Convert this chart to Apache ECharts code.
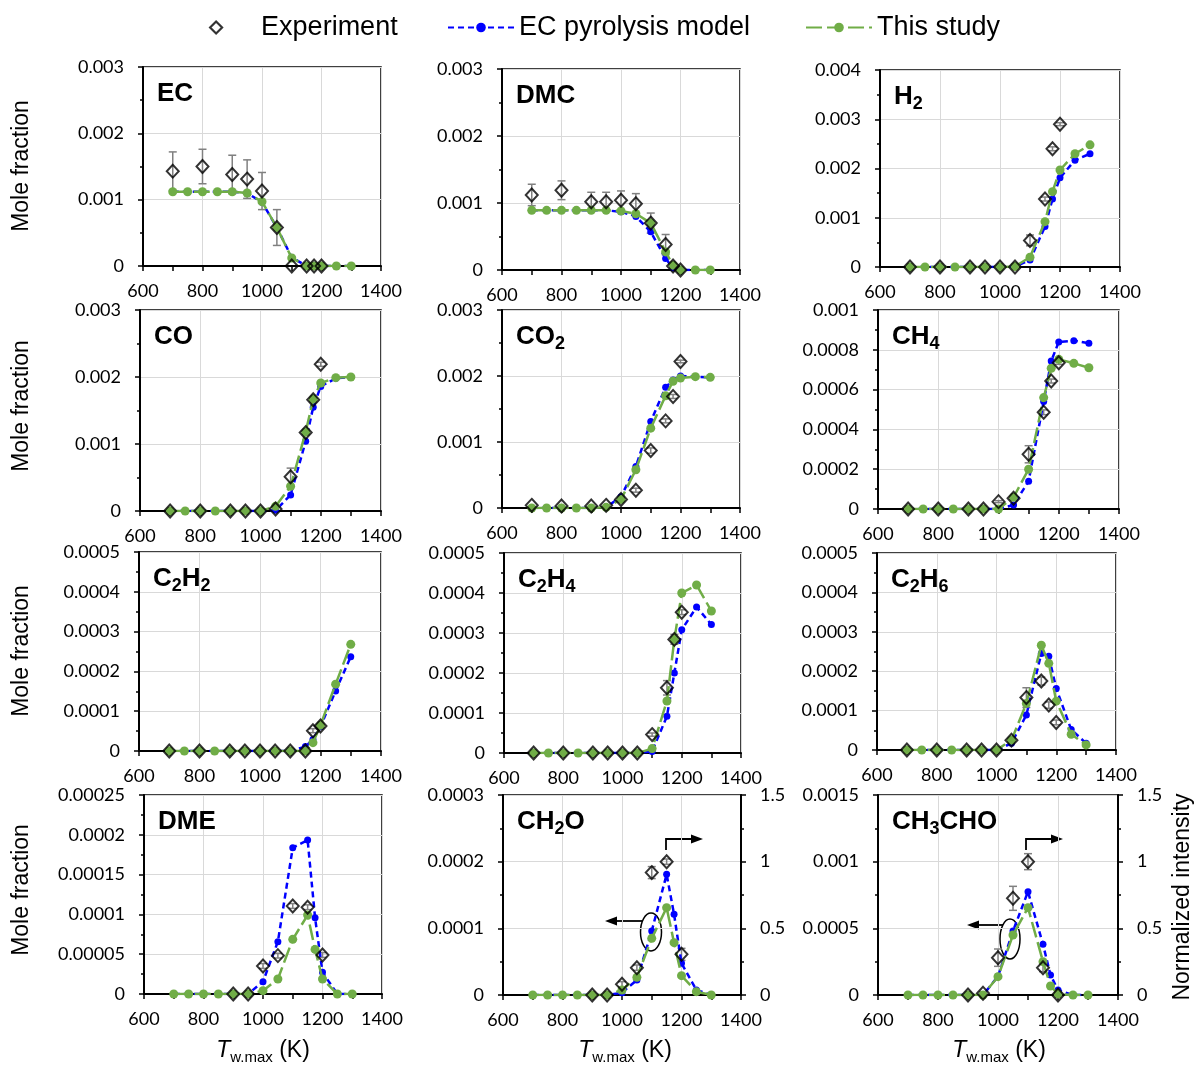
<!DOCTYPE html>
<html>
<head>
<meta charset="utf-8">
<script src="https://cdn.jsdelivr.net/npm/echarts@6/dist/echarts.min.js"></script>
<style>
html, body { margin: 0; padding: 0; background: #fff; }
#chart { width: 1195px; height: 1066px; }
</style>
</head>
<body>
<div id="chart"></div>
<script>
// wall temperatures (K)
const T_MODEL = [700, 750, 800, 850, 900, 950, 1000, 1050, 1100, 1150, 1175, 1200, 1250, 1300];
const T_EXP = [700, 800, 900, 950, 1000, 1050, 1100, 1150, 1175, 1200];
const T_EXP_LATE = [900, 950, 1000, 1050, 1100, 1150, 1200];

const X_TICKS = [600, 800, 1000, 1200, 1400];

// EC
const EC_EXP = [0.00143, 0.00150, 0.00138, 0.00131, 0.00113, 0.00058, 0, 0, 0, 0];
const EC_ERR = [0.00029, 0.00026, 0.00029, 0.00029, 0.00028, 0.00027, 0, 0, 0, 0];
const EC_MODEL = [0.00112, 0.00112, 0.00112, 0.00112, 0.00112, 0.00110, 0.00096, 0.00058, 0.00013, 0, 0, 0, 0, 0];
const EC_THIS = [0.00112, 0.00112, 0.00112, 0.00112, 0.00112, 0.00110, 0.00097, 0.00058, 0.00012, 0, 0, 0, 0, 0];

// DMC
const DMC_EXP = [0.00112, 0.00119, 0.00102, 0.00102, 0.00104, 0.00099, 0.00070, 0.00038, 0.00006, 0];
const DMC_ERR = [0.00016, 0.00014, 0.00014, 0.00014, 0.00014, 0.00015, 0.00015, 0.00015, 0, 0];
const DMC_MODEL = [0.00089, 0.00089, 0.00089, 0.00089, 0.00089, 0.00089, 0.00087, 0.00080, 0.00057, 0.00017, 0.00003, 0, 0, 0];
const DMC_THIS = [0.00089, 0.00089, 0.00089, 0.00089, 0.00089, 0.00089, 0.00088, 0.00084, 0.00070, 0.00027, 0.00007, 0, 0, 0];

// H2
const H2_EXP = [0, 0, 0, 0, 0, 0, 0.00054, 0.00138, 0.00240, 0.00290];
const H2_ERR = [0, 0, 0, 0, 0, 0, 0.00011, 0.00004, 0.00004, 0.00003];
const H2_MODEL = [0, 0, 0, 0, 0, 0, 0, 0.00001, 0.00014, 0.00082, 0.00138, 0.00181, 0.00217, 0.00230];
const H2_THIS = [0, 0, 0, 0, 0, 0, 0, 0.00001, 0.00020, 0.00092, 0.00153, 0.00197, 0.00230, 0.00248];

// CO
const CO_EXP = [0, 0, 0, 0, 0, 0.00003, 0.00051, 0.00117, 0.00166, 0.00219];
const CO_ERR = [0, 0, 0, 0, 0, 0, 0.00013, 0.00003, 0.00003, 0.00003];
const CO_MODEL = [0, 0, 0, 0, 0, 0, 0, 0.00001, 0.00024, 0.00104, 0.00155, 0.00186, 0.00198, 0.00200];
const CO_THIS = [0, 0, 0, 0, 0, 0, 0, 0.00007, 0.00037, 0.00118, 0.00167, 0.00191, 0.00199, 0.00200];

// CO2
const CO2_EXP = [0.00004, 0.00003, 0.00003, 0.00004, 0.00013, 0.00027, 0.00087, 0.00132, 0.00169, 0.00222];
const CO2_ERR = [0, 0, 0, 0, 0.00002, 0.00003, 0.00004, 0.00003, 0.00003, 0.00002];
const CO2_MODEL = [0, 0, 0, 0, 0, 0.00001, 0.00017, 0.00063, 0.00131, 0.00183, 0.00194, 0.00200, 0.00199, 0.00198];
const CO2_THIS = [0, 0, 0, 0, 0, 0.00001, 0.00013, 0.00058, 0.00121, 0.00170, 0.00192, 0.00197, 0.00199, 0.00198];

// CH4
const CH4_EXP = [0, 0, 0, 0, 0.000037, 0.000054, 0.000275, 0.000486, 0.000643, 0.000735];
const CH4_ERR = [0, 0, 0, 0, 0.000005, 0.000005, 0.000043, 0.000012, 0.000010, 0.000008];
const CH4_MODEL = [0, 0, 0, 0, 0, 0, 0, 0.000020, 0.000140, 0.000540, 0.000744, 0.000839, 0.000846, 0.000833];
const CH4_THIS = [0, 0, 0, 0, 0, 0, 0, 0.000059, 0.000200, 0.000560, 0.000707, 0.000752, 0.000732, 0.000710];

// C2H2
const C2H2_EXP = [0, 0, 0, 0, 0, 0, 0, 0, 0.000051, 0.000063];
const C2H2_ERR = [0, 0, 0, 0, 0, 0, 0, 0, 0.000005, 0.000004];
const C2H2_MODEL = [0, 0, 0, 0, 0, 0, 0, 0, 0, 0.000011, 0.000029, 0.000061, 0.000151, 0.000237];
const C2H2_THIS = [0, 0, 0, 0, 0, 0, 0, 0, 0, 0, 0.000021, 0.000065, 0.000168, 0.000268];

// C2H4
const C2H4_EXP = [0, 0, 0, 0, 0, 0, 0.000046, 0.000163, 0.000284, 0.000352];
const C2H4_ERR = [0, 0, 0, 0, 0, 0, 0.000004, 0.000018, 0.000012, 0.000006];
const C2H4_MODEL = [0, 0, 0, 0, 0, 0, 0, 0, 0.000004, 0.000092, 0.000200, 0.000308, 0.000365, 0.000321];
const C2H4_THIS = [0, 0, 0, 0, 0, 0, 0, 0, 0.000011, 0.000130, 0.000284, 0.000400, 0.000420, 0.000355];

// C2H6
const C2H6_EXP = [0, 0, 0, 0, 0, 0.000025, 0.000133, 0.000175, 0.000114, 0.000070];
const C2H6_ERR = [0, 0, 0, 0, 0, 0.000004, 0.000025, 0.000010, 0.000008, 0.000006];
const C2H6_MODEL = [0, 0, 0, 0, 0, 0, 0, 0.000017, 0.000089, 0.000245, 0.000238, 0.000156, 0.000052, 0.000017];
const C2H6_THIS = [0, 0, 0, 0, 0, 0, 0, 0.000025, 0.000118, 0.000266, 0.000220, 0.000124, 0.000040, 0.000013];

// DME
const DME_EXP = [0, 0, 0.0000352, 0.0000482, 0.0001106, 0.000109, 0.000049];
const DME_ERR = [0, 0, 0.000003, 0.000003, 0.000003, 0.000003, 0.000003];
const DME_MODEL = [0, 0, 0, 0, 0, 0, 0.0000155, 0.0000657, 0.0001838, 0.0001935, 0.0000959, 0.0000272, 0, 0];
const DME_THIS = [0, 0, 0, 0, 0, 0, 0.0000042, 0.0000188, 0.0000687, 0.0000992, 0.000056, 0.0000188, 0, 0];

// CH2O (experiment as normalized intensity)
const CH2O_EXP = [0, 0, 0.08, 0.205, 0.918, 1.0, 0.305];
const CH2O_ERR = [0, 0, 0.02, 0.02, 0.045, 0.02, 0.045];
const CH2O_MODEL = [0, 0, 0, 0, 0, 0, 0.0000035, 0.0000225, 0.000096, 0.000181, 0.000121, 0.0000475, 0.0000075, 0];
const CH2O_THIS = [0, 0, 0, 0, 0, 0, 0.0000075, 0.0000265, 0.000085, 0.000131, 0.0000785, 0.000029, 0.000005, 0];

// CH3CHO (experiment as normalized intensity)
const CH3CHO_EXP = [0, 0.0125, 0.28, 0.725, 1.0, 0.205, 0];
const CH3CHO_ERR = [0, 0.01, 0.065, 0.09, 0.06, 0.03, 0];
const CH3CHO_MODEL = [0, 0, 0, 0, 0, 0, 0.00014, 0.00048, 0.000775, 0.00038, 0.00015, 0.0000375, 0, 0];
const CH3CHO_THIS = [0, 0, 0, 0, 0, 0, 0.0001375, 0.00045, 0.000655, 0.00025, 0.0000675, 0.0000075, 0, 0];

const BLUE = '#0000ff';
const GREEN = '#70ad47';
const TICK_FONT = 'Lato';
const TEXT_FONT = 'Liberation Sans';

// panel layout: [left, top, width, height]
const PANELS = [
  { title: '{m|EC}', box: [143, 67, 238, 199], yMax: 0.003, yInt: 0.001, tExp: T_EXP, exp: EC_EXP, err: EC_ERR, model: EC_MODEL, ours: EC_THIS },
  { title: '{m|DMC}', box: [502, 69, 238, 201], yMax: 0.003, yInt: 0.001, tExp: T_EXP, exp: DMC_EXP, err: DMC_ERR, model: DMC_MODEL, ours: DMC_THIS },
  { title: '{m|H}{s|2}', box: [880, 70, 240, 197], yMax: 0.004, yInt: 0.001, tExp: T_EXP, exp: H2_EXP, err: H2_ERR, model: H2_MODEL, ours: H2_THIS },
  { title: '{m|CO}', box: [140, 310, 241, 201], yMax: 0.003, yInt: 0.001, tExp: T_EXP, exp: CO_EXP, err: CO_ERR, model: CO_MODEL, ours: CO_THIS },
  { title: '{m|CO}{s|2}', box: [502, 310, 238, 198], yMax: 0.003, yInt: 0.001, tExp: T_EXP, exp: CO2_EXP, err: CO2_ERR, model: CO2_MODEL, ours: CO2_THIS },
  { title: '{m|CH}{s|4}', box: [878, 310, 241, 199], yMax: 0.001, yInt: 0.0002, tExp: T_EXP, exp: CH4_EXP, err: CH4_ERR, model: CH4_MODEL, ours: CH4_THIS },
  { title: '{m|C}{s|2}{m|H}{s|2}', box: [139, 552, 242, 199], yMax: 0.0005, yInt: 0.0001, tExp: T_EXP, exp: C2H2_EXP, err: C2H2_ERR, model: C2H2_MODEL, ours: C2H2_THIS },
  { title: '{m|C}{s|2}{m|H}{s|4}', box: [504, 553, 237, 200], yMax: 0.0005, yInt: 0.0001, tExp: T_EXP, exp: C2H4_EXP, err: C2H4_ERR, model: C2H4_MODEL, ours: C2H4_THIS },
  { title: '{m|C}{s|2}{m|H}{s|6}', box: [877, 553, 239, 197], yMax: 0.0005, yInt: 0.0001, tExp: T_EXP, exp: C2H6_EXP, err: C2H6_ERR, model: C2H6_MODEL, ours: C2H6_THIS },
  { title: '{m|DME}', box: [144, 795, 238, 199], yMax: 0.00025, yInt: 0.00005, tExp: T_EXP_LATE, exp: DME_EXP, err: DME_ERR, model: DME_MODEL, ours: DME_THIS },
  { title: '{m|CH}{s|2}{m|O}', box: [503, 795, 238, 200], yMax: 0.0003, yInt: 0.0001, tExp: T_EXP_LATE, exp: CH2O_EXP, err: CH2O_ERR, model: CH2O_MODEL, ours: CH2O_THIS, right: true },
  { title: '{m|CH}{s|3}{m|CHO}', box: [878, 795, 240, 200], yMax: 0.0015, yInt: 0.0005, tExp: T_EXP_LATE, exp: CH3CHO_EXP, err: CH3CHO_ERR, model: CH3CHO_MODEL, ours: CH3CHO_THIS, right: true }
];

function fmt(v) {
  return v === 0 ? '0' : String(parseFloat(v.toPrecision(6)));
}

function axisLine() {
  return { show: true, onZero: false, lineStyle: { color: '#000', width: 2 } };
}

function renderErr(params, api) {
  const x = api.value(0);
  const lo = api.coord([x, api.value(1)]);
  const hi = api.coord([x, api.value(2)]);
  const w = 4;
  const st = { stroke: '#808080', lineWidth: 1.5 };
  return {
    type: 'group',
    children: [
      { type: 'line', shape: { x1: lo[0], y1: lo[1], x2: hi[0], y2: hi[1] }, style: st },
      { type: 'line', shape: { x1: lo[0] - w, y1: lo[1], x2: lo[0] + w, y2: lo[1] }, style: st },
      { type: 'line', shape: { x1: hi[0] - w, y1: hi[1], x2: hi[0] + w, y2: hi[1] }, style: st }
    ]
  };
}

const grids = [], xAxes = [], yAxes = [], series = [], graphics = [];

PANELS.forEach(function (p, i) {
  const [l, t, w, h] = p.box;
  grids.push({ left: l, top: t, width: w, height: h, show: true, borderColor: '#000', borderWidth: 1.5, backgroundColor: 'transparent', outerBoundsMode: 'none' });
  xAxes.push({
    gridIndex: i, type: 'value', min: X_TICKS[0], max: X_TICKS[X_TICKS.length - 1], interval: 200,
    axisLine: axisLine(),
    axisTick: { show: true, length: 5, lineStyle: { color: '#000', width: 1.5 } },
    minorTick: { show: true, splitNumber: 2, length: 5, lineStyle: { color: '#000', width: 1.5 } },
    splitLine: { show: true, lineStyle: { color: '#d9d9d9', width: 1 } },
    axisLabel: { color: '#000', fontFamily: TICK_FONT, fontSize: 18, margin: 16, formatter: function (v) { return String(v); } }
  });
  const yLeft = yAxes.length;
  yAxes.push({
    gridIndex: i, type: 'value', min: 0, max: p.yMax, interval: p.yInt,
    axisLine: axisLine(),
    axisTick: { show: true, length: 5, lineStyle: { color: '#000', width: 1.5 } },
    minorTick: { show: true, splitNumber: 2, length: 3, lineStyle: { color: '#000', width: 1.5 } },
    splitLine: { show: true, lineStyle: { color: '#d9d9d9', width: 1 } },
    axisLabel: { color: '#000', fontFamily: TICK_FONT, fontSize: 18, margin: 19, formatter: fmt }
  });
  let yExp = yLeft;
  if (p.right) {
    yExp = yAxes.length;
    yAxes.push({
      gridIndex: i, type: 'value', position: 'right', min: 0, max: 1.5, interval: 0.5,
      axisLine: axisLine(),
      axisTick: { show: true, length: 5, lineStyle: { color: '#000', width: 1.5 } },
      minorTick: { show: true, splitNumber: 2, length: 3, lineStyle: { color: '#000', width: 1.5 } },
      splitLine: { show: false },
      axisLabel: { color: '#000', fontFamily: TICK_FONT, fontSize: 18, margin: 19, formatter: fmt }
    });
  }

  const errData = [];
  p.tExp.forEach(function (x, k) {
    if (p.err[k] > 0) errData.push([x, p.exp[k] - p.err[k], p.exp[k] + p.err[k]]);
  });
  series.push({
    type: 'custom', xAxisIndex: i, yAxisIndex: yExp, data: errData,
    renderItem: renderErr, silent: true, z: 2, encode: { x: 0, y: [1, 2] }
  });
  series.push({
    name: 'EC pyrolysis model', type: 'line', xAxisIndex: i, yAxisIndex: yLeft,
    data: T_MODEL.map(function (x, k) { return [x, p.model[k]]; }),
    symbol: 'circle', symbolSize: 7, z: 3,
    itemStyle: { color: BLUE },
    lineStyle: { color: BLUE, width: 2.5, type: [6, 4] }
  });
  series.push({
    name: 'This study', type: 'line', xAxisIndex: i, yAxisIndex: yLeft,
    data: T_MODEL.map(function (x, k) { return [x, p.ours[k]]; }),
    symbol: 'circle', symbolSize: 9, z: 4,
    itemStyle: { color: GREEN },
    lineStyle: { color: GREEN, width: 2.5, type: [16, 5] }
  });
  series.push({
    name: 'Experiment', type: 'scatter', xAxisIndex: i, yAxisIndex: yExp,
    data: p.tExp.map(function (x, k) { return [x, p.exp[k]]; }),
    symbol: 'diamond', symbolSize: [12, 13], z: 5,
    itemStyle: { color: 'rgba(255,255,255,0)', borderColor: '#000', borderWidth: 2 }
  });

  graphics.push({
    type: 'text', x: l + 14, y: t + 27, z: 10,
    style: {
      text: p.title, textVerticalAlign: 'middle', textAlign: 'left',
      rich: {
        m: { font: 'bold 26px "' + TEXT_FONT + '"', lineHeight: 32, fill: '#000' },
        s: { font: 'bold 18px "' + TEXT_FONT + '"', lineHeight: 16, verticalAlign: 'bottom', fill: '#000' }
      }
    }
  });
});

// axis titles
[166, 406, 651, 890].forEach(function (y) {
  graphics.push({
    type: 'text', x: 22, y: y, rotation: Math.PI / 2,
    style: { text: 'Mole fraction', font: '23px "' + TEXT_FONT + '"', fill: '#000', textAlign: 'center', textVerticalAlign: 'middle' }
  });
});
graphics.push({
  type: 'text', x: 1183, y: 897, rotation: Math.PI / 2,
  style: { text: 'Normalized intensity', font: '23px "' + TEXT_FONT + '"', fill: '#000', textAlign: 'center', textVerticalAlign: 'middle' }
});
[263, 625, 999].forEach(function (x) {
  graphics.push({
    type: 'text', x: x, y: 1051,
    style: {
      text: '{t|T}{s|w.max}{n| (K)}', textAlign: 'center', textVerticalAlign: 'middle',
      rich: {
        t: { font: 'italic 23px "' + TEXT_FONT + '"', lineHeight: 28, fill: '#000' },
        s: { font: '15px "' + TEXT_FONT + '"', lineHeight: 14, verticalAlign: 'bottom', fill: '#000' },
        n: { font: '23px "' + TEXT_FONT + '"', lineHeight: 28, fill: '#000' }
      }
    }
  });
});

// arrows and ellipses marking which axis the curves belong to
const ANNOT = [
  { up: [666, 850, 839, 703], left: [642, 605, 921], ell: [651, 932, 10.5, 19] },
  { up: [1026, 850, 839, 1063], left: [1003, 967, 925], ell: [1010, 939, 10, 20] }
];
ANNOT.forEach(function (a) {
  const ls = { stroke: '#000', lineWidth: 1.8, fill: null };
  graphics.push({ type: 'polyline', shape: { points: [[a.up[0], a.up[1]], [a.up[0], a.up[2]], [a.up[3] - 10, a.up[2]]] }, style: ls });
  graphics.push({ type: 'polygon', shape: { points: [[a.up[3], a.up[2]], [a.up[3] - 12, a.up[2] - 4.5], [a.up[3] - 12, a.up[2] + 4.5]] }, style: { fill: '#000' } });
  graphics.push({ type: 'line', shape: { x1: a.left[0], y1: a.left[2], x2: a.left[1] + 10, y2: a.left[2] }, style: ls });
  graphics.push({ type: 'polygon', shape: { points: [[a.left[1], a.left[2]], [a.left[1] + 12, a.left[2] - 4.5], [a.left[1] + 12, a.left[2] + 4.5]] }, style: { fill: '#000' } });
  graphics.push({ type: 'ellipse', shape: { cx: a.ell[0], cy: a.ell[1], rx: a.ell[2], ry: a.ell[3] }, style: { stroke: '#000', lineWidth: 1.5, fill: null } });
});

// diamond centred in a wide icon box (degenerate end points set the box)
const DIAMOND_ICON = 'path://M0,6L0,6M40,0L46,6L40,12L34,6ZM80,6L80,6';

const legendText = { color: '#000', fontFamily: TEXT_FONT, fontSize: 27 };
const option = {
  animation: false,
  backgroundColor: '#fff',
  legend: [
    {
      data: [{ name: 'Experiment', icon: DIAMOND_ICON, itemStyle: { color: '#fff', borderColor: '#000', borderWidth: 2.2 } }],
      left: 170, top: 9, itemWidth: 80, itemHeight: 12, selectedMode: false, textStyle: legendText,
      itemStyle: { borderColor: '#000', borderWidth: 2.2 }
    },
    { data: ['EC pyrolysis model'], left: 442, top: 9, itemWidth: 66, itemHeight: 12, selectedMode: false, textStyle: legendText },
    { data: ['This study'], left: 800, top: 9, itemWidth: 66, itemHeight: 12, selectedMode: false, textStyle: legendText }
  ],
  grid: grids,
  xAxis: xAxes,
  yAxis: yAxes,
  series: series,
  graphic: graphics
};

const chart = echarts.init(document.getElementById('chart'));
chart.setOption(option);
</script>
</body>
</html>
